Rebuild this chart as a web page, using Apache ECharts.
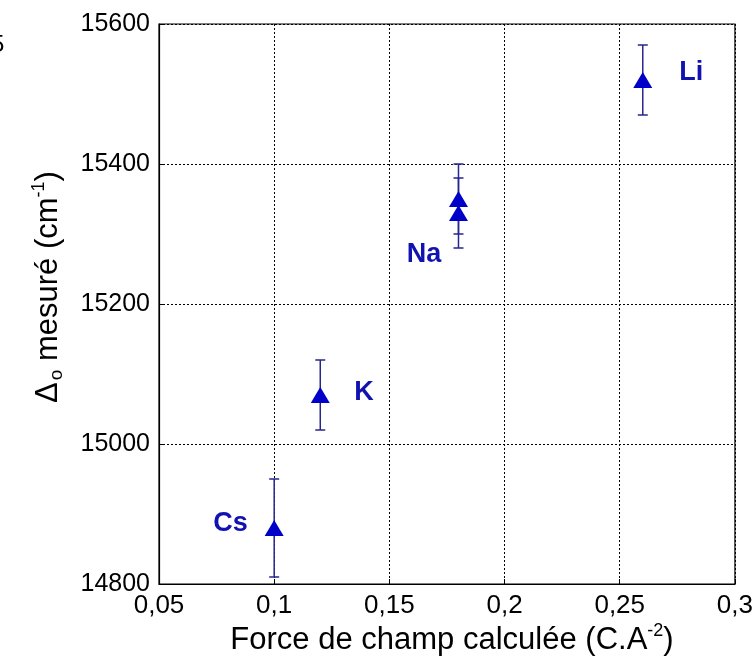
<!DOCTYPE html>
<html>
<head>
<meta charset="utf-8">
<script src="https://cdn.jsdelivr.net/npm/echarts@6/dist/echarts.min.js"></script>
<style>
html,body{margin:0;padding:0;background:#fff;}
#chart{width:756px;height:666px;}
</style>
</head>
<body>
<div id="chart"></div>
<script>
// valeurs
var ions = ['Cs', 'K', 'Na', 'Na', 'Li'];
var force = [0.1, 0.12, 0.18, 0.18, 0.26];
var delta = [14880, 15070, 15350, 15330, 15520];
var errHaut = [70, 50, 50, 50, 50];
var errBas = [70, 50, 50, 50, 50];
// position des etiquettes (coord. des donnees)
var etiquettes = ['Cs', 'K', 'Na', 'Li'];
var etiqX = [0.081, 0.139, 0.165, 0.281];
var etiqY = [14887, 15073, 15270, 15531];

var bleu = '#0000c8';
var texteBleu = '#1212b0';
var barreCouleur = '#26268f';
var police = 'Liberation Sans, Arial, sans-serif';

var pts = [], barres = [], labs = [];
for (var i = 0; i < force.length; i++) {
	pts.push([force[i], delta[i]]);
	barres.push([force[i], delta[i] - errBas[i], delta[i] + errHaut[i]]);
}
for (var j = 0; j < etiquettes.length; j++) {
	labs.push({value: [etiqX[j], etiqY[j]], name: etiquettes[j]});
}

var chart = echarts.init(document.getElementById('chart'));
var option = {
	backgroundColor: '#fff',
	animation: false,
	textStyle: {fontFamily: police},
	grid: {left: 159, right: 19, top: 24, bottom: 82, show: true, borderColor: '#000', borderWidth: 1.2},
	xAxis: {
		type: 'value', min: 0.05, max: 0.3, interval: 0.05,
		axisLine: {show: true, onZero: false, lineStyle: {color: '#000', width: 1.2}},
		axisTick: {show: true, inside: true, length: 5, lineStyle: {color: '#000'}},
		splitLine: {show: true, lineStyle: {color: '#000', type: [2, 2], width: 1}},
		axisLabel: {
			color: '#000', fontSize: 26, margin: 9,
			formatter: function (v) { return String(+v.toFixed(2)).replace('.', ','); }
		}
	},
	yAxis: {
		type: 'value', min: 14800, max: 15600, interval: 200,
		axisLine: {show: true, onZero: false, lineStyle: {color: '#000', width: 1.2}},
		axisTick: {show: true, inside: true, length: 5, lineStyle: {color: '#000'}},
		splitLine: {show: true, lineStyle: {color: '#000', type: [2, 2], width: 1}},
		axisLabel: {color: '#000', fontSize: 25, margin: 9, formatter: function (v) { return String(v); }}
	},
	graphic: [{
		type: 'text', left: -9, top: 33,
		style: {text: '5', fontSize: 24, fill: '#000', fontFamily: police}
	}, {
		// titre axe x
		type: 'text', x: 452, y: 640,
		style: {
			text: '{t|Force de champ calculée (C.A}{sup|-2}{t|)}',
			align: 'center', verticalAlign: 'middle',
			rich: {
				t: {fontSize: 31, fill: '#000', fontFamily: police},
				sup: {fontSize: 18, fill: '#000', padding: [0, 0, 17, 0], fontFamily: police}
			}
		}
	}, {
		// titre axe y
		type: 'text', x: 48, y: 287, rotation: Math.PI / 2,
		style: {
			text: '{t|Δ}{sub|o}{t| mesuré (cm}{sup|-1}{t|)}',
			align: 'center', verticalAlign: 'middle',
			rich: {
				t: {fontSize: 31, fill: '#000', fontFamily: police},
				sub: {fontSize: 19, fill: '#000', padding: [17, 0, 0, 2], fontFamily: police},
				sup: {fontSize: 18, fill: '#000', padding: [0, 0, 17, 0], fontFamily: police}
			}
		}
	}],
	series: [{
		type: 'custom',
		data: barres,
		z: 2,
		renderItem: function (params, api) {
			var x = api.value(0);
			var bas = api.coord([x, api.value(1)]);
			var haut = api.coord([x, api.value(2)]);
			var w = 5;
			var st = {stroke: barreCouleur, lineWidth: 1.5};
			return {
				type: 'group',
				children: [
					{type: 'line', shape: {x1: haut[0], y1: haut[1], x2: bas[0], y2: bas[1]}, style: st},
					{type: 'line', shape: {x1: haut[0] - w, y1: haut[1], x2: haut[0] + w, y2: haut[1]}, style: st},
					{type: 'line', shape: {x1: bas[0] - w, y1: bas[1], x2: bas[0] + w, y2: bas[1]}, style: st}
				]
			};
		}
	}, {
		type: 'scatter',
		data: pts,
		symbol: 'triangle',
		symbolSize: [19, 16],
		itemStyle: {color: bleu, opacity: 1},
		z: 3
	}, {
		type: 'scatter',
		data: labs,
		symbolSize: 0,
		silent: true,
		itemStyle: {opacity: 1},
		label: {
			show: true, position: 'inside', formatter: '{b}',
			color: texteBleu, opacity: 1, fontSize: 27, fontWeight: 'bold',
			fontFamily: police
		},
		z: 4
	}]
};
chart.setOption(option);
</script>
</body>
</html>
